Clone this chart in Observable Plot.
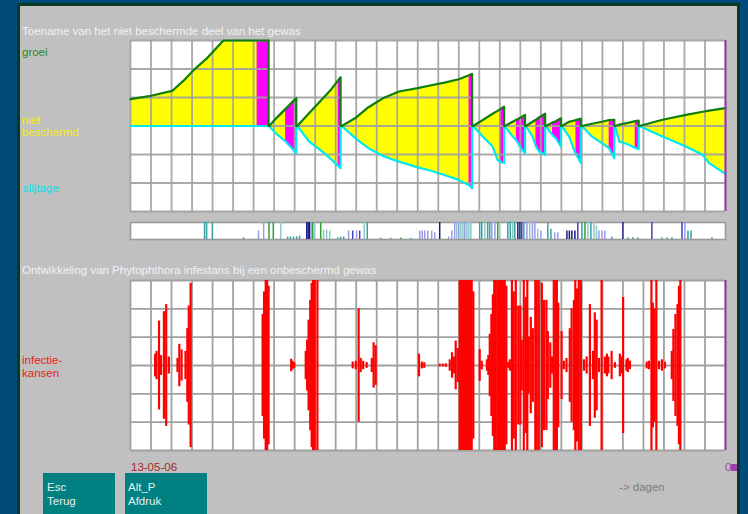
<!DOCTYPE html>
<html><head><meta charset="utf-8">
<script src="https://cdn.jsdelivr.net/npm/d3@7"></script>
<script src="https://cdn.jsdelivr.net/npm/@observablehq/plot@0.6"></script>
<style>
body{margin:0;background:#004b7a;}
#root{position:relative;width:748px;height:514px;overflow:hidden;background:#004b7a;font-family:"Liberation Sans",Arial,sans-serif;font-size:11.5px;}
.frame{position:absolute;left:17px;top:3px;width:723px;height:530px;background:#0b3b1e;}
.panel{position:absolute;left:20px;top:6px;width:717px;height:530px;background:#c0c0c0;}
.t{position:absolute;white-space:nowrap;line-height:13px;}
.chart{position:absolute;}
.btn{position:absolute;background:#008080;}
</style></head><body>
<div id="root">
  <div class="frame"></div>
  <div class="panel"></div>
  <div class="t" style="left:22px;top:25px;color:#f2f2f2;">Toename van het niet beschermde deel van het gewas</div>
  <div class="t" style="left:22px;top:46px;color:#2a8a2a;">groei</div>
  <div class="t" style="left:22px;top:114px;color:#f4f000;">niet</div>
  <div class="t" style="left:22px;top:126px;color:#f4f000;">beschermd</div>
  <div class="t" style="left:23px;top:182px;color:#00e0e8;">slijtage</div>
  <div class="t" style="left:22px;top:264px;color:#f2f2f2;">Ontwikkeling van Phytophthora infestans bij een onbeschermd gewas</div>
  <div class="t" style="left:22px;top:354px;color:#e82020;">infectie-</div>
  <div class="t" style="left:22px;top:367px;color:#e82020;">kansen</div>
  <div class="t" style="left:131px;top:461px;color:#a82828;">13-05-06</div>
  <div class="t" style="left:725px;top:461px;color:#a040b0;">0</div>
  <div style="position:absolute;left:731px;top:464px;width:6px;height:7px;background:#a040b0;"></div>
  <div class="t" style="left:619px;top:481px;color:#7c7c7c;">-&gt; dagen</div>
  <div class="btn" style="left:43px;top:473px;width:72px;height:45px;"></div>
  <div class="t" style="left:47px;top:481px;color:#e4f0f0;">Esc</div>
  <div class="t" style="left:47px;top:495px;color:#e4f0f0;">Terug</div>
  <div class="btn" style="left:125px;top:473px;width:82px;height:45px;"></div>
  <div class="t" style="left:128px;top:481px;color:#e4f0f0;">Alt_P</div>
  <div class="t" style="left:128px;top:495px;color:#e4f0f0;">Afdruk</div>
  <div id="top" class="chart" style="left:127px;top:37px;"></div>
  <div id="strip" class="chart" style="left:127px;top:219px;"></div>
  <div id="bottom" class="chart" style="left:127px;top:277px;"></div>
</div>
<script>
// ---- Top chart: unprotected part (upper = groei, lower = slijtage), per segment, in days ----
const segDays = [
  [0,1,2.03,2.6,3.09,3.76,4.47,4.55,6.17,6.73,6.73],
  [6.76,7.07,7.56,8.08,8.08],
  [8.13,8.7,9.35,9.8,10.12,10.24,10.24],
  [10.3,11.0,11.6,12.3,13.09,14.0,14.6,15.3,16.0,16.5,16.65,16.65],
  [16.7,17.17,17.65,17.89,18.0,18.21,18.21],
  [18.24,18.63,18.81,19.03,19.23,19.23],
  [19.27,19.6,19.76,19.92,20.21,20.21],
  [20.24,20.49,20.57,20.73,20.98,20.98],
  [21.02,21.38,21.62,21.71,21.87,21.95,21.95],
  [22.0,22.49,22.98,23.33,23.58,23.58],
  [23.62,23.82,24.3,24.6,24.77,24.77],
  [24.8,25.93,27.07,27.89,28.2,29]
];
const segUp = [
  [0.94,1.06,1.23,1.6,1.97,2.4,2.96,3,3,3,0],
  [0,0.25,0.6,0.98,0],
  [0,0.45,0.95,1.3,1.6,1.71,0],
  [0,0.3,0.66,0.97,1.21,1.33,1.42,1.52,1.64,1.78,1.83,0],
  [0,0.21,0.43,0.53,0.58,0.68,0],
  [0,0.15,0.22,0.3,0.39,0],
  [0,0.15,0.22,0.3,0.43,0],
  [0,0.09,0.12,0.17,0.27,0],
  [0,0.15,0.19,0.21,0.24,0.25,0],
  [0,0.08,0.15,0.21,0.22,0],
  [0,0.05,0.12,0.17,0.19,0],
  [0,0.22,0.39,0.5,0.54,0.63]
];
const segLo = [
  [0,0,0,0,0,0,0,0,0,0,0],
  [0,-0.25,-0.54,-0.95,0],
  [0,-0.54,-0.9,-1.18,-1.4,-1.48,0],
  [0,-0.45,-0.78,-1.05,-1.25,-1.45,-1.56,-1.72,-1.89,-2.08,-2.18,0],
  [0,-0.37,-0.72,-1.19,-1.25,-1.3,0],
  [0,-0.37,-0.5,-0.78,-0.95,0],
  [0,-0.37,-0.72,-0.9,-1.01,0],
  [0,-0.25,-0.32,-0.43,-0.72,0],
  [0,-0.37,-0.84,-0.98,-1.19,-1.3,0],
  [0,-0.37,-0.6,-0.78,-1.13,0],
  [0,-0.54,-0.66,-0.77,-0.81,0],
  [0,-0.37,-0.72,-1.01,-1.3,-1.68]
];
// magenta stretches (segment, start day, end day)
const magSeg   = [0,1,2,3,4,5,6,7,8,9,10];
const magStart = [6.17,7.56,10.12,16.5,18.0,18.81,19.76,20.57,21.71,23.33,24.6];
const magEnd   = [6.73,8.08,10.24,16.65,18.21,19.23,20.21,20.98,21.95,23.58,24.77];

// ---- Strip: daily weather bars ----
const stripDay = [3.61,3.71,3.99,5.51,6.24,6.49,6.75,6.96,7.32,7.66,7.80,7.95,8.10,8.24,8.59,8.66,8.73,8.80,8.88,8.98,9.27,9.41,9.56,9.71,10.10,10.24,10.39,10.63,10.83,11.02,11.17,11.39,11.54,12.20,12.68,13.17,13.66,14.10,14.22,14.34,14.49,14.68,14.83,15.07,15.51,15.66,15.80,15.90,16.00,16.10,16.20,16.29,16.39,16.49,16.59,17.02,17.12,17.27,17.41,17.51,17.61,17.76,17.90,18.00,18.39,18.51,18.63,18.73,18.88,18.98,19.07,19.17,19.32,19.46,19.59,19.71,19.85,20.00,20.34,20.49,20.68,20.83,21.27,21.39,21.51,21.66,21.80,22.00,22.15,22.29,22.44,22.59,22.71,22.83,22.98,23.12,23.46,24.00,24.24,24.49,24.73,25.41,25.90,26.15,26.39,26.88,27.02,27.17,27.32,28.34];
const stripVal = [1,1,1,0.1,0.5,1,1,1,1,0.15,0.15,0.15,0.15,0.2,1,1,1,1,1,1,1,0.55,0.55,0.5,0.1,0.15,0.15,0.5,0.5,0.5,0.5,1,1,0.08,0.08,0.08,0.08,0.5,0.5,0.5,0.5,0.5,0.4,1,0.15,0.5,1,1,1,1,1,1,1,1,1,1,1,1,1,1,1,1,1,1,1,1,1,1,1,1,1,1,1,1,1,1,0.6,0.5,1,0.6,0.4,0.4,0.5,0.5,0.5,0.5,1,1,1,1,1,1,0.8,0.5,0.5,0.5,0.15,1,0.1,0.1,0.1,1,0.1,0.1,0.1,1,1,0.5,0.5,0.1];
const stripCat = ["teal","teal","teal","groen","paars","paars","groen","groen","lichtteal","teal","teal","teal","teal","teal","navy","navy","navy","paars","groen","lichtteal","groen","lichtteal","lichtteal","lichtteal","teal","teal","teal","paars","blauw","paars","blauw","lichtteal","teal","groen","teal","groen","teal","paars","paars","paars","paars","paars","paars","navy","paars","paars","paars","lichtteal","paars","lichtteal","lichtteal","paars","lichtteal","lichtteal","lichtteal","teal","teal","lichtteal","teal","teal","paars","paars","groen","lichtteal","teal","teal","lichtteal","teal","navy","navy","blauw","teal","paars","lichtteal","paars","paars","lichtteal","paars","teal","teal","paars","paars","navy","navy","navy","navy","blauw","teal","groen","lichtteal","teal","lichtteal","lichtteal","paars","paars","paars","teal","navy","teal","groen","teal","blauw","teal","teal","teal","blauw","paars","teal","teal","teal"];
const stripCats = ["teal","lichtteal","groen","paars","blauw","navy"];
const stripColors = ["#3aa0a0","#8cc8c8","#30a030","#9a9ae6","#4040c8","#1a1a80"];

// ---- Bottom chart: infection chances (symmetric spikes) ----
const spikeDay = [1.20,1.27,1.39,1.49,1.63,1.74,1.87,2.29,2.38,2.49,2.68,2.77,2.84,2.93,6.44,6.51,6.59,6.66,6.73,7.83,7.90,7.98,8.54,8.61,8.68,8.76,8.83,8.90,8.98,9.11,10.83,10.98,11.12,11.22,11.34,11.51,11.76,11.85,11.95,14.06,14.20,14.32,15.07,15.22,15.37,15.56,15.67,15.76,15.85,15.95,16.05,16.12,16.20,16.27,16.34,16.41,16.49,16.56,16.63,16.71,17.02,17.12,17.37,17.44,17.51,17.59,17.66,17.73,17.80,17.88,17.95,18.02,18.10,18.17,18.24,18.32,18.41,18.49,18.59,18.68,18.78,18.90,19.00,19.07,19.17,19.27,19.34,19.41,19.51,19.61,19.73,19.80,19.90,20.05,20.15,20.27,20.34,20.46,20.54,20.63,20.71,20.78,20.85,21.01,21.12,21.25,21.41,21.50,21.61,21.68,21.76,21.85,21.95,22.10,22.23,22.39,22.54,22.63,22.72,22.83,22.96,23.12,23.22,23.29,23.45,23.61,23.85,23.93,24.01,24.17,24.24,24.34,25.16,25.27,25.39,25.46,25.54,25.63,25.76,25.90,26.05,26.38,26.46,26.56,26.66,26.73,26.80];
const spikeAmp = [0.4,0.5,1.57,0.35,1.9,2.15,0.3,0.25,0.75,0.55,0.5,1.3,2.1,2.9,1.8,2.6,3,3,2.8,0.22,0.15,0.1,0.5,0.9,1.6,2.3,2.9,3,3,3,0.12,0.15,2.0,0.25,0.15,0.1,0.25,0.8,0.7,0.4,0.12,0.1,0.05,0.05,0.06,0.2,0.45,0.3,0.86,0.6,3,3,3,3,3,3,3,3,3,2.6,0.56,0.15,0.2,0.35,1.1,1.8,2.5,3,3,3,3,3,3,3,3,2.8,0.1,0.2,3,2.6,3,2.1,2.1,0.9,3,2.4,3,1.0,1.7,1.3,3,3,3,2.9,2.3,2.3,1.2,0.8,0.3,3,3,3,2.2,1.2,0.15,0.25,1.3,2.0,2.3,3,2.7,3,3,0.2,0.3,2.15,0.5,1.86,1.6,0.25,3,0.3,0.4,0.3,0.5,0.1,0.4,0.3,2.4,0.2,0.25,0.15,0.12,0.15,3,2.2,2.0,3,0.15,0.2,0.12,0.5,1.27,1.8,2.15,2.8,3];

const dayTicks = d3.range(0, 30);
const levelTicks = d3.range(-3, 4);

// ---- build tables ----
const topRows = segDays.flatMap((ds, s) => ds.map((d, i) => ({seg: s, day: d, up: segUp[s][i], lo: segLo[s][i]})));
const magRows = magSeg.flatMap((s, k) => topRows
  .filter(r => r.seg === s && r.day >= magStart[k] - 1e-9 && r.day <= magEnd[k] + 1e-9)
  .map(r => ({...r, piece: k})));
const stripRows = stripDay.map((d, i) => ({day: d, v: stripVal[i], cat: stripCat[i]}));
const spikeRows = spikeDay.map((d, i) => ({day: d, amp: spikeAmp[i]}));

const common = {width: 601, marginLeft: 3, marginRight: 3, style: {background: "transparent", overflow: "visible"}};
const gridColor = "#a0a0a0";

document.getElementById("top").append(Plot.plot({
  ...common, height: 177, marginTop: 3, marginBottom: 3,
  x: {domain: [0, 29], axis: null},
  y: {domain: [-3, 3], axis: null},
  marks: [
    Plot.frame({fill: "white"}),
    Plot.areaY(topRows, {x: "day", y1: "lo", y2: "up", z: "seg", fill: "#ffff00"}),
    Plot.areaY(magRows, {x: "day", y1: "lo", y2: "up", z: "piece", fill: "#ff00ff"}),
    Plot.ruleX(dayTicks, {x: d => d, stroke: gridColor, strokeWidth: 1.8, strokeOpacity: 0.9}),
    Plot.ruleY(levelTicks, {y: d => d, stroke: gridColor, strokeWidth: 1.8, strokeOpacity: 0.9}),
    Plot.line(topRows, {x: "day", y: "lo", z: "seg", stroke: "#00e8f0", strokeWidth: 2.2}),
    Plot.line(topRows, {x: "day", y: "up", z: "seg", stroke: "#0e7e0e", strokeWidth: 2.2}),
    Plot.ruleX([29], {x: d => d, stroke: "#a030b0", strokeWidth: 2})
  ]
}));

document.getElementById("strip").append(Plot.plot({
  ...common, height: 23, marginTop: 3, marginBottom: 3,
  x: {domain: [0, 29], axis: null},
  y: {domain: [0, 1], axis: null},
  color: {domain: stripCats, range: stripColors},
  marks: [
    Plot.frame({fill: "white", stroke: "#9a9a9a", strokeWidth: 1.6}),
    Plot.ruleX(stripRows, {x: "day", y1: 0, y2: "v", stroke: "cat", strokeWidth: 1.5})
  ]
}));

document.getElementById("bottom").append(Plot.plot({
  ...common, height: 176, marginTop: 3, marginBottom: 3,
  x: {domain: [0, 29], axis: null},
  y: {domain: [-3, 3], axis: null},
  marks: [
    Plot.frame({fill: "white"}),
    Plot.ruleX(dayTicks, {x: d => d, stroke: gridColor, strokeWidth: 1.8}),
    Plot.ruleY(levelTicks, {y: d => d, stroke: gridColor, strokeWidth: 1.8}),
    Plot.ruleX(spikeRows, {x: "day", y1: d => -d.amp, y2: "amp", stroke: "#ff0000", strokeWidth: 2.2}),
    Plot.ruleX([29], {x: d => d, stroke: "#a030b0", strokeWidth: 2})
  ]
}));
</script>
</body></html>
